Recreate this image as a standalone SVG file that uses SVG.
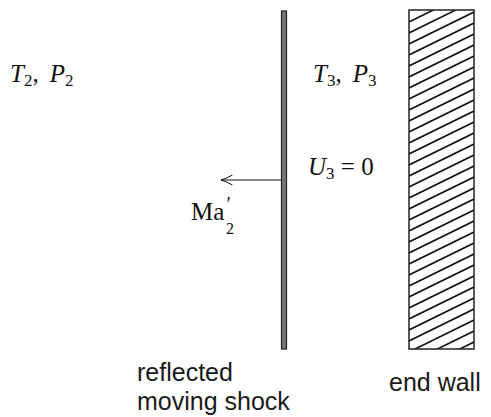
<svg xmlns="http://www.w3.org/2000/svg" width="491" height="417" viewBox="0 0 491 417">
<defs>
<style>
.math{font-family:"Liberation Serif","DejaVu Serif",serif;font-size:25px;fill:#111}
.it{font-style:italic}
.sub{font-size:17px}
.lbl{font-family:"Liberation Sans",Arial,sans-serif;font-size:25px;fill:#1a1a1a}
.hatch{stroke:#111;stroke-width:1.6}
</style>
<clipPath id="wallClip"><rect x="409" y="10" width="65" height="339"/></clipPath>
<marker id="open" viewBox="0 0 12 10" refX="11.5" refY="5" markerWidth="12" markerHeight="10" markerUnits="userSpaceOnUse" orient="auto">
<path d="M0,0 Q7,4 12,5 Q7,6 0,10" fill="none" stroke="#111" stroke-width="1"/>
</marker>
</defs>
<rect width="491" height="417" fill="#fff"/>
<g id="shock">
<rect x="281.5" y="11" width="5" height="338" fill="#777" stroke="#222" stroke-width="1.2"/>
</g>
<g id="endwall">
<g clip-path="url(#wallClip)">
<path class="hatch" d="M409,22 L474,-10 M409,33 L474,1 M409,44 L474,12 M409,55 L474,23 M409,66 L474,34 M409,77 L474,45 M409,88 L474,56 M409,99 L474,67 M409,110 L474,78 M409,121 L474,89 M409,132 L474,100 M409,143 L474,111 M409,154 L474,122 M409,165 L474,133 M409,176 L474,144 M409,187 L474,155 M409,198 L474,166 M409,209 L474,177 M409,220 L474,188 M409,231 L474,199 M409,242 L474,210 M409,253 L474,221 M409,264 L474,232 M409,275 L474,243 M409,286 L474,254 M409,297 L474,265 M409,308 L474,276 M409,319 L474,287 M409,330 L474,298 M409,341 L474,309 M409,352 L474,320 M409,363 L474,331 M409,374 L474,342 M409,385 L474,353"/>
</g>
<rect x="409" y="10" width="65" height="339" fill="none" stroke="#222" stroke-width="1.5"/>
</g>
<g id="connectors">
<line x1="281" y1="180" x2="221" y2="180" stroke="#111" stroke-width="1.2" marker-end="url(#open)"/>
</g>
<g id="region2">
<text class="math" x="10" y="82"><tspan class="it">T</tspan><tspan class="sub" dy="4">2</tspan><tspan dy="-4">,</tspan><tspan class="it" dx="11">P</tspan><tspan class="sub" dy="4">2</tspan></text>
</g>
<g id="region3">
<text class="math" x="313" y="82"><tspan class="it">T</tspan><tspan class="sub" dy="4">3</tspan><tspan dy="-4">,</tspan><tspan class="it" dx="11">P</tspan><tspan class="sub" dy="4">3</tspan></text>
<text class="math" x="308" y="175"><tspan class="it">U</tspan><tspan class="sub" dy="4">3</tspan><tspan dy="-4"> = 0</tspan></text>
</g>
<g id="machlabel">
<text class="math" x="191" y="220">Ma<tspan x="226.5" y="211" style="font-size:20px">′</tspan><tspan x="226" y="234" style="font-size:16px">2</tspan></text>
</g>
<g id="labels">
<text class="lbl" x="137" y="381">reflected</text>
<text class="lbl" x="137" y="410">moving shock</text>
<text class="lbl" x="389" y="391">end wall</text>
</g>
</svg>
